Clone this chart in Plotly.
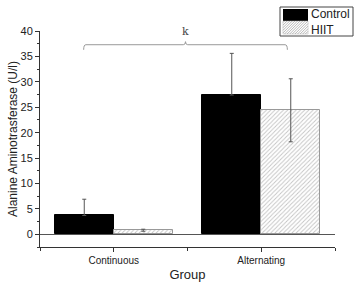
import plotly.graph_objects as go

groups = ["Continuous", "Alternating"]
control_vals = [3.7, 27.4]
control_err = [3.2, 8.2]
hiit_vals = [0.8, 24.4]
hiit_err = [0.2, 6.2]
y_ticks = [0, 5, 10, 15, 20, 25, 30, 35, 40]
sig_label = "k"
bracket_x = [-0.204, 1.177]
bracket_y = 37.3
series_names = ["Control", "HIIT"]

W, H = 359, 286
ML, MR, MT, MB = 40, 24, 31, 39
PW, PH = W - ML - MR, H - MT - MB

def px2paper(px, py):
    return (px - ML) / PW, (H - MB - py) / PH

xpos = list(range(len(groups)))
bw = 0.4

fig = go.Figure()
fig.add_trace(go.Bar(
    x=[p - bw / 2 for p in xpos], y=control_vals, width=bw, name=series_names[0],
    marker=dict(color="black", line=dict(color="black", width=1)),
    error_y=dict(type="data", array=control_err, arrayminus=[0] * len(control_err),
                 color="#555", thickness=1, width=2),
    showlegend=False,
))
fig.add_trace(go.Bar(
    x=[p + bw / 2 for p in xpos], y=hiit_vals, width=bw, name=series_names[1],
    marker=dict(color="white", line=dict(color="#999", width=1),
                pattern=dict(shape="/", fgcolor="#888", bgcolor="white", size=3, solidity=0.3)),
    error_y=dict(type="data", array=hiit_err, color="#555", thickness=1, width=2),
    showlegend=False,
))

# significance bracket
x0, x1 = bracket_x
xm = (x0 + x1) / 2
d = 1.0
up = 0.6
e = 0.015
path = (f"M {x0},{bracket_y - d} Q {x0},{bracket_y} {x0 + e},{bracket_y} "
        f"L {xm - e},{bracket_y} Q {xm},{bracket_y} {xm},{bracket_y + up} "
        f"Q {xm},{bracket_y} {xm + e},{bracket_y} "
        f"L {x1 - e},{bracket_y} Q {x1},{bracket_y} {x1},{bracket_y - d}")
fig.add_shape(type="path", path=path, xref="x", yref="y",
              line=dict(color="#999", width=1))
fig.add_annotation(x=xm, y=bracket_y + 2.7, text=sig_label, showarrow=False,
                   xref="x", yref="y", yanchor="middle",
                   font=dict(family="DejaVu Serif", size=11, color="#444"))

# manual legend (compact, like the original)
bx0, by0 = px2paper(280, 7)
bx1, by1 = px2paper(353, 36)
fig.add_shape(type="rect", xref="paper", yref="paper", x0=bx0, y0=by1, x1=bx1, y1=by0,
              line=dict(color="#444", width=1), fillcolor="white", layer="above")
sx0, sx1 = 283, 308
rows = [(9, 21), (21, 34)]
a, b = px2paper(sx0, rows[0][0]); c, dd = px2paper(sx1, rows[0][1])
fig.add_shape(type="rect", xref="paper", yref="paper", x0=a, y0=dd, x1=c, y1=b,
              line=dict(color="black", width=0), fillcolor="black", layer="above")
# hatch swatch
ry0, ry1 = rows[1]
a, b = px2paper(sx0, ry0); c, dd = px2paper(sx1, ry1)
fig.add_shape(type="rect", xref="paper", yref="paper", x0=a, y0=dd, x1=c, y1=b,
              line=dict(color="#bbb", width=0.5), fillcolor="white", layer="above")
segs = []
k = sx0 + ry0 + 1.5
while k < sx1 + ry1:
    xa = max(sx0, k - ry1); xb = min(sx1, k - ry0)
    if xb > xa:
        p1 = px2paper(xa, k - xa); p2 = px2paper(xb, k - xb)
        segs.append(f"M {p1[0]},{p1[1]} L {p2[0]},{p2[1]}")
    k += 2.6
fig.add_shape(type="path", xref="paper", yref="paper", path=" ".join(segs),
              line=dict(color="#999", width=0.7), layer="above")
tx, ty = px2paper(310, (rows[0][0] + rows[1][1]) / 2)
fig.add_annotation(x=tx, y=ty, xref="paper", yref="paper", text="<br>".join(series_names),
                   showarrow=False, xanchor="left", yanchor="middle", align="left",
                   borderpad=0, font=dict(size=12, color="#222"))

fig.update_layout(
    width=W, height=H,
    margin=dict(l=ML, r=MR, t=MT, b=MB),
    paper_bgcolor="white", plot_bgcolor="white",
    barmode="overlay", bargap=0,
    font=dict(family="Liberation Sans, Arial", color="#222"),
    showlegend=False,
)
fig.update_xaxes(
    range=[-0.5, 1.5], tickvals=xpos, ticktext=groups,
    showline=True, linecolor="#333", linewidth=1,
    ticks="outside", ticklen=4, tickcolor="#333",
    minor=dict(tick0=0.5, dtick=1, ticks="outside", ticklen=3, tickcolor="#333"),
    showgrid=False, zeroline=False, automargin=False,
    tickfont=dict(size=10),
    title=dict(text="Group", font=dict(size=13), standoff=4),
)
fig.update_yaxes(
    range=[-2.5, 40], tickvals=y_ticks,
    showline=True, linecolor="#333", linewidth=1,
    ticks="outside", ticklen=4, tickcolor="#333",
    minor=dict(dtick=2.5, tick0=0, ticks="outside", ticklen=2, tickcolor="#333"),
    showgrid=False, zeroline=True, zerolinecolor="#555", zerolinewidth=1,
    tickfont=dict(size=11), automargin=False,
    title=dict(text="Alanine Aminotrasferase (U/l)", font=dict(size=12), standoff=0),
)

fig.write_html("out.html", config={"displayModeBar": False},
               post_script="document.body.style.margin='0';document.body.style.overflow='hidden';")
